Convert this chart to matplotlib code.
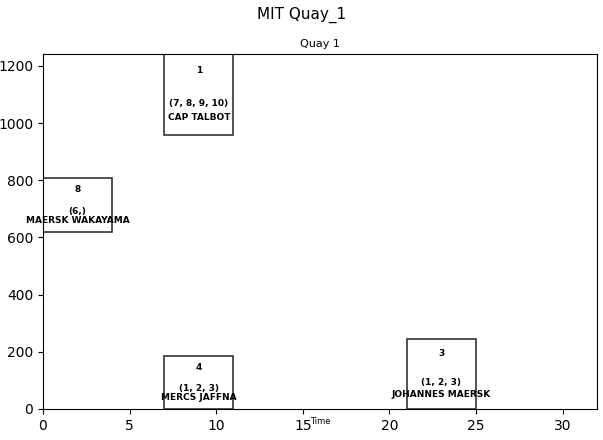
import matplotlib
matplotlib.use("Agg")
import matplotlib.pyplot as plt
from matplotlib.patches import Rectangle

# berth plan data
vessel_ids = ["1", "8", "4", "3"]
vessel_names = ["CAP TALBOT", "MAERSK WAKAYAMA", "MERCS JAFFNA", "JOHANNES MAERSK"]
vessel_cranes = ["(7, 8, 9, 10)", "(6,)", "(1, 2, 3)", "(1, 2, 3)"]
start_time = [7, 0, 7, 21]
duration = [4, 4, 4, 4]
berth_pos = [960, 620, 0, 0]
vessel_len = [282, 188, 185, 245]

fig = plt.figure(figsize=(6.03, 4.4), dpi=100)
ax = fig.add_axes([0.0713, 0.0705, 0.919, 0.807])

for i in range(len(vessel_ids)):
    x0, w = start_time[i], duration[i]
    y0, h = berth_pos[i], vessel_len[i]
    ax.add_patch(Rectangle((x0, y0), w, h, facecolor="white",
                           edgecolor="#333333", linewidth=1.2))
    cx = x0 + w / 2
    ax.text(cx, y0 + 0.79 * h, vessel_ids[i], ha="center", va="center",
            fontsize=6.5, fontweight="bold")
    ax.text(cx, y0 + 0.38 * h, vessel_cranes[i], ha="center", va="center",
            fontsize=6.5, fontweight="bold")
    ax.text(cx, y0 + 0.21 * h, vessel_names[i], ha="center", va="center",
            fontsize=6.5, fontweight="bold")

ax.set_xlim(0, 32)
ax.set_ylim(0, 1242)
ax.set_yticks([0, 200, 400, 600, 800, 1000, 1200])
ax.set_xticks([0, 5, 10, 15, 20, 25, 30])
ax.set_title("Quay 1", fontsize=8, pad=5)
ax.set_xlabel("Time", fontsize=6)
ax.xaxis.set_label_coords(0.5, -0.022)
fig.suptitle("MIT Quay_1", fontsize=11, y=0.985)

fig.savefig("out.png", dpi=100)
